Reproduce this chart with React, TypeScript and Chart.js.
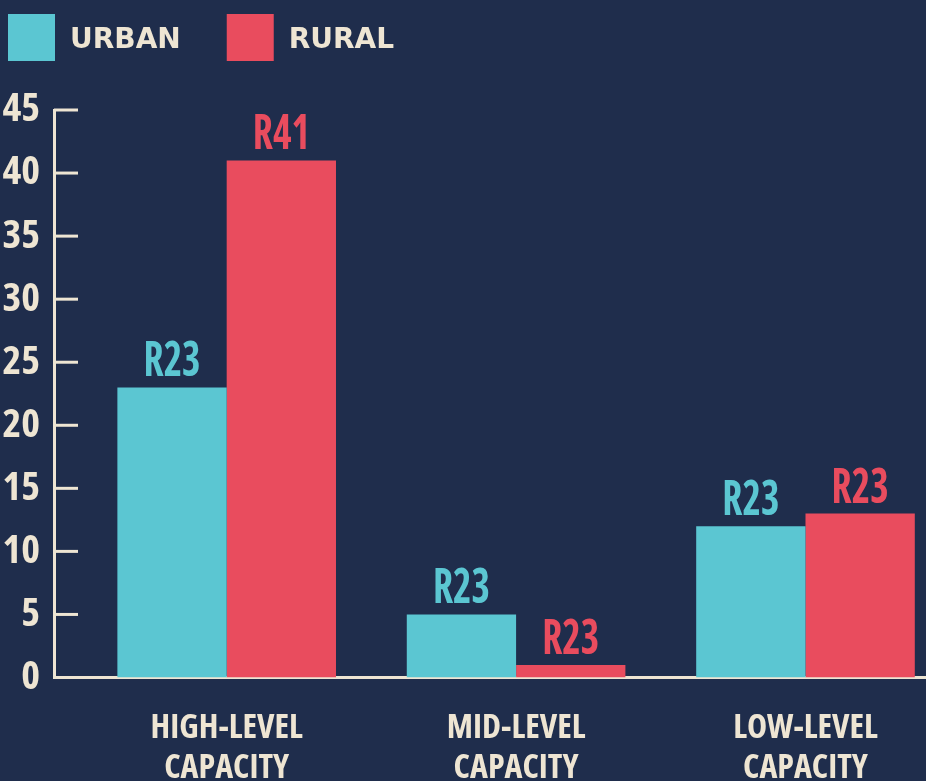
import React, { useEffect, useRef } from "react";
import { Chart, registerables } from "chart.js";

Chart.register(...registerables);

// ---- data ----
const categories = [
  ["HIGH-LEVEL", "CAPACITY"],
  ["MID-LEVEL", "CAPACITY"],
  ["LOW-LEVEL", "CAPACITY"],
];
const seriesNames = ["URBAN", "RURAL"];
const urbanValues = [23, 5, 12];
const ruralValues = [41, 1, 13];
const urbanLabels = ["R23", "R23", "R23"];
const ruralLabels = ["R41", "R23", "R23"];
const yTickValues = [0, 5, 10, 15, 20, 25, 30, 35, 40, 45];

// ---- style ----
const BG = "#1f2d4c";
const CYAN = "#5bc6d2";
const RED = "#e94c5e";
const CREAM = "#eee5d3";
const COND = "'Open Sans'";
const CANVAS_W = 926;
const CANVAS_H = 820;
const PLOT_BOTTOM = 677.5;
const X_MIN = -0.5967;
const X_MAX = 2.4164;

const valueLabels = [urbanLabels, ruralLabels];

const bgPlugin = {
  id: "bg",
  beforeDraw(chart: any) {
    const ctx = chart.ctx;
    ctx.save();
    ctx.fillStyle = BG;
    ctx.fillRect(0, 0, chart.width, chart.height);
    ctx.restore();
  },
};

const yTickMarks = {
  id: "yTickMarks",
  afterDatasetsDraw(chart: any) {
    const ctx = chart.ctx;
    const y = chart.scales.y;
    const left = chart.chartArea.left;
    ctx.save();
    ctx.strokeStyle = CREAM;
    ctx.lineWidth = 3;
    y.ticks.forEach((t: any) => {
      if (t.value === 0) return;
      const py = y.getPixelForValue(t.value);
      ctx.beginPath();
      ctx.moveTo(left, py);
      ctx.lineTo(left + 24, py);
      ctx.stroke();
    });
    ctx.restore();
  },
};

const barLabels = {
  id: "barLabels",
  afterDatasetsDraw(chart: any) {
    const ctx = chart.ctx;
    ctx.save();
    ctx.font = `bold condensed 48px ${COND}`;
    ctx.textAlign = "center";
    ctx.textBaseline = "alphabetic";
    chart.data.datasets.forEach((ds: any, di: number) => {
      const meta = chart.getDatasetMeta(di);
      meta.data.forEach((el: any, i: number) => {
        const text = valueLabels[di][i];
        ctx.save();
        ctx.fillStyle = ds.backgroundColor;
        ctx.translate(el.x, el.y - 11);
        ctx.scale(0.82, 1);
        ctx.fillText(text, 0, 0);
        ctx.restore();
      });
    });
    ctx.restore();
  },
};

const customLegend = {
  id: "customLegend",
  afterDraw(chart: any) {
    const ctx = chart.ctx;
    ctx.save();
    ctx.font = "bold 28px 'DejaVu Sans'";
    ctx.textBaseline = "alphabetic";
    ctx.textAlign = "left";
    let x = 8;
    chart.data.datasets.forEach((ds: any) => {
      ctx.fillStyle = ds.backgroundColor;
      ctx.fillRect(x, 14, 47, 47);
      ctx.fillStyle = CREAM;
      const tx = x + 47 + 15;
      ctx.fillText(ds.label, tx, 48);
      x = tx + ctx.measureText(ds.label).width + 46;
    });
    ctx.restore();
  },
};

export default function App() {
  const ref = useRef<HTMLCanvasElement>(null);

  useEffect(() => {
    const canvas = ref.current;
    if (!canvas) return;
    const tickFont = (size: number) => ({
      family: COND,
      weight: "bold condensed" as any,
      size,
      lineHeight: 1.2,
    });
    const chart = new Chart(canvas, {
      type: "bar",
      data: {
        datasets: [
          {
            label: seriesNames[0],
            data: urbanValues.map((v, i) => ({ x: i, y: v })),
            backgroundColor: CYAN,
            categoryPercentage: 0.7554,
            barPercentage: 1,
          },
          {
            label: seriesNames[1],
            data: ruralValues.map((v, i) => ({ x: i, y: v })),
            backgroundColor: RED,
            categoryPercentage: 0.7554,
            barPercentage: 1,
          },
        ],
      },
      options: {
        responsive: false,
        maintainAspectRatio: false,
        animation: false,
        devicePixelRatio: 1,
        layout: { padding: { top: 110, left: 0, right: 0, bottom: 0 } },
        plugins: {
          legend: { display: false },
          tooltip: { enabled: false },
          title: { display: false },
        },
        scales: {
          x: {
            type: "linear",
            min: X_MIN,
            max: X_MAX,
            offset: false,
            z: 1,
            grid: { display: false, drawTicks: false, offset: false },
            border: { display: true, color: CREAM, width: 3 },
            afterBuildTicks: (s: any) => {
              s.ticks = categories.map((_, i) => ({ value: i }));
            },
            afterFit: (s: any) => {
              s.height = CANVAS_H - PLOT_BOTTOM;
            },
            ticks: {
              color: CREAM,
              font: tickFont(34),
              padding: 30,
              maxRotation: 0,
              minRotation: 0,
              autoSkip: false,
              callback: (v: any) => categories[v] ?? "",
            },
          },
          y: {
            min: 0,
            max: 45,
            afterBuildTicks: (s: any) => {
              s.ticks = yTickValues.map((v) => ({ value: v }));
            },
            afterFit: (s: any) => {
              s.width = 54;
            },
            grid: { display: false, drawTicks: false },
            border: { display: true, color: CREAM, width: 3 },
            ticks: {
              color: CREAM,
              font: tickFont(40),
              padding: 14,
            },
          },
        },
      },
      plugins: [bgPlugin, yTickMarks, barLabels, customLegend],
    });
    return () => chart.destroy();
  }, []);

  return (
    <div
      style={{
        position: "absolute",
        left: 0,
        top: 0,
        width: CANVAS_W,
        height: 781,
        overflow: "hidden",
        background: BG,
      }}
    >
      <canvas
        ref={ref}
        width={CANVAS_W}
        height={CANVAS_H}
        style={{ display: "block", width: CANVAS_W, height: CANVAS_H }}
      />
    </div>
  );
}
